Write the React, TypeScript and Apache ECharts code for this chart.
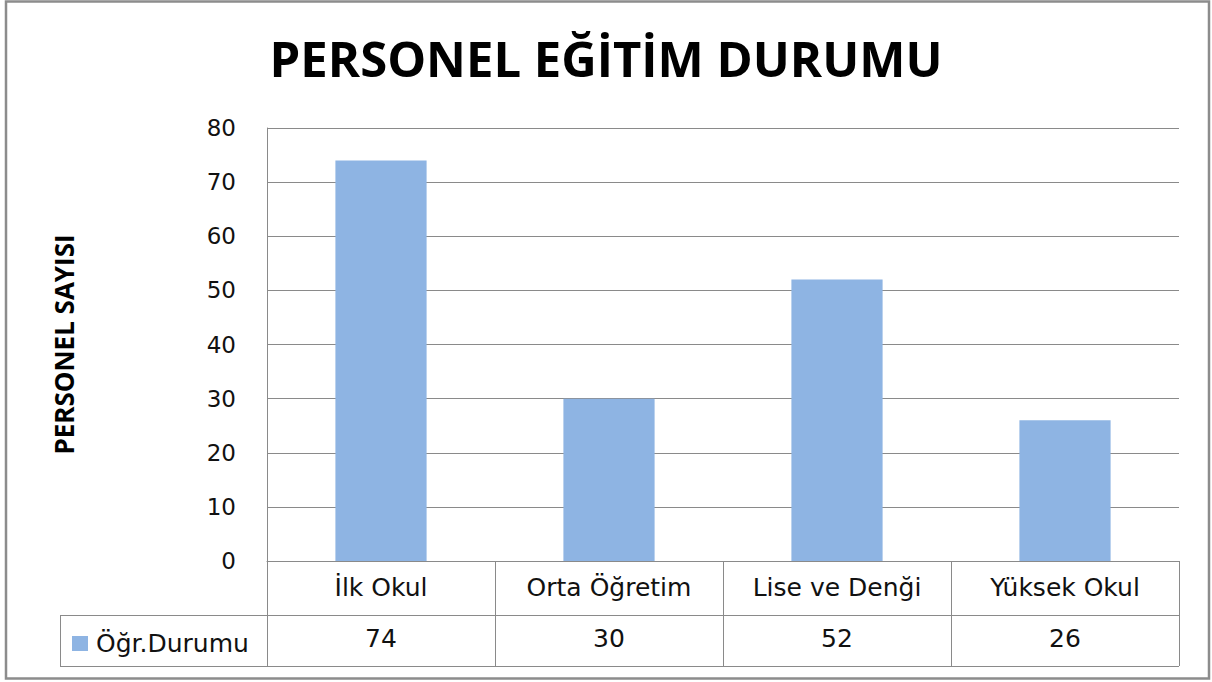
import React, { useEffect, useRef } from "react";
import * as echarts from "echarts";

const categories = ["İlk Okul", "Orta Öğretim", "Lise ve Denği", "Yüksek Okul"];
const values = [74, 30, 52, 26];
const seriesName = "Öğr.Durumu";
const titleText = "PERSONEL EĞİTİM DURUMU";
const yAxisName = "PERSONEL SAYISI";

const W = 1212;
const H = 682;
const GRID_LEFT = 267;
const GRID_RIGHT_X = 1179;
const GRID_TOP = 128;
const GRID_BOTTOM_Y = 561;
const ROW1 = 615;
const ROW2 = 666;
const TABLE_LEFT = 60;
const LINE = "#8a8a8a";
const BAR = "#8eb4e3";
const TITLE_FONT = "'Open Sans', 'DejaVu Sans', sans-serif";
const LABEL_FONT = "'DejaVu Sans', 'Open Sans', sans-serif";

export default function App() {
  const ref = useRef<HTMLDivElement>(null);
  useEffect(() => {
    if (!ref.current) return;
    const chart = echarts.init(ref.current, null, { renderer: "svg" });
    chart.setOption({
      animation: false,
      backgroundColor: "#ffffff",
      title: {
        text: titleText,
        left: "center",
        top: 28,
        textStyle: { fontFamily: TITLE_FONT, fontWeight: "bold", fontSize: 49, color: "#000" },
      },
      legend: {
        data: [seriesName],
        left: 67,
        top: 626,
        icon: "rect",
        itemWidth: 16,
        itemHeight: 15,
        itemGap: 6,
        textStyle: { fontFamily: LABEL_FONT, fontSize: 25, color: "#111", padding: [0, 0, 0, 3] },
        selectedMode: false,
      },
      grid: {
        left: GRID_LEFT,
        right: W - GRID_RIGHT_X,
        top: GRID_TOP,
        bottom: H - GRID_BOTTOM_Y,
      },
      xAxis: [
        {
          type: "category",
          data: categories,
          position: "bottom",
          axisLine: { show: true, lineStyle: { color: LINE, width: 1 } },
          axisTick: {
            show: true,
            alignWithLabel: false,
            interval: 0,
            length: ROW2 - GRID_BOTTOM_Y,
            lineStyle: { color: LINE, width: 1 },
          },
          axisLabel: { margin: 14, fontFamily: LABEL_FONT, fontSize: 25, color: "#111", interval: 0 },
        },
        {
          type: "category",
          data: values.map((v) => String(v)),
          position: "bottom",
          offset: ROW1 - GRID_BOTTOM_Y,
          axisLine: { show: false },
          axisTick: { show: false },
          axisLabel: { margin: 11, fontFamily: LABEL_FONT, fontSize: 25, color: "#111", interval: 0 },
        },
      ],
      yAxis: {
        type: "value",
        min: 0,
        max: 80,
        interval: 10,
        name: yAxisName,
        nameLocation: "middle",
        nameRotate: 90,
        nameGap: 190,
        nameTextStyle: { fontFamily: TITLE_FONT, fontWeight: "bold", fontSize: 26, color: "#000" },
        axisLine: { show: true, lineStyle: { color: LINE, width: 1 } },
        axisTick: { show: false },
        splitLine: { show: true, lineStyle: { color: LINE, width: 1 } },
        axisLabel: { margin: 31, fontFamily: LABEL_FONT, fontSize: 23, color: "#111" },
      },
      series: [
        {
          name: seriesName,
          type: "bar",
          data: values,
          barWidth: "40%",
          itemStyle: { color: BAR },
        },
      ],
      graphic: [
        {
          type: "rect",
          shape: { x: 6, y: 1.5, width: 1203, height: 677 },
          style: { fill: "none", stroke: "#8c8c8c", lineWidth: 2.5 },
          silent: true,
        },
        {
          type: "line",
          shape: { x1: TABLE_LEFT, y1: ROW1 + 0.5, x2: GRID_RIGHT_X, y2: ROW1 + 0.5 },
          style: { stroke: LINE, lineWidth: 1 },
          silent: true,
        },
        {
          type: "line",
          shape: { x1: TABLE_LEFT, y1: ROW2 + 0.5, x2: GRID_RIGHT_X, y2: ROW2 + 0.5 },
          style: { stroke: LINE, lineWidth: 1 },
          silent: true,
        },
        {
          type: "line",
          shape: { x1: TABLE_LEFT + 0.5, y1: ROW1, x2: TABLE_LEFT + 0.5, y2: ROW2 + 1 },
          style: { stroke: LINE, lineWidth: 1 },
          silent: true,
        },
      ],
    });
    return () => chart.dispose();
  }, []);
  return (
    <div
      ref={ref}
      style={{ position: "fixed", left: 0, top: 0, width: W, height: H, background: "#fff" }}
    />
  );
}
